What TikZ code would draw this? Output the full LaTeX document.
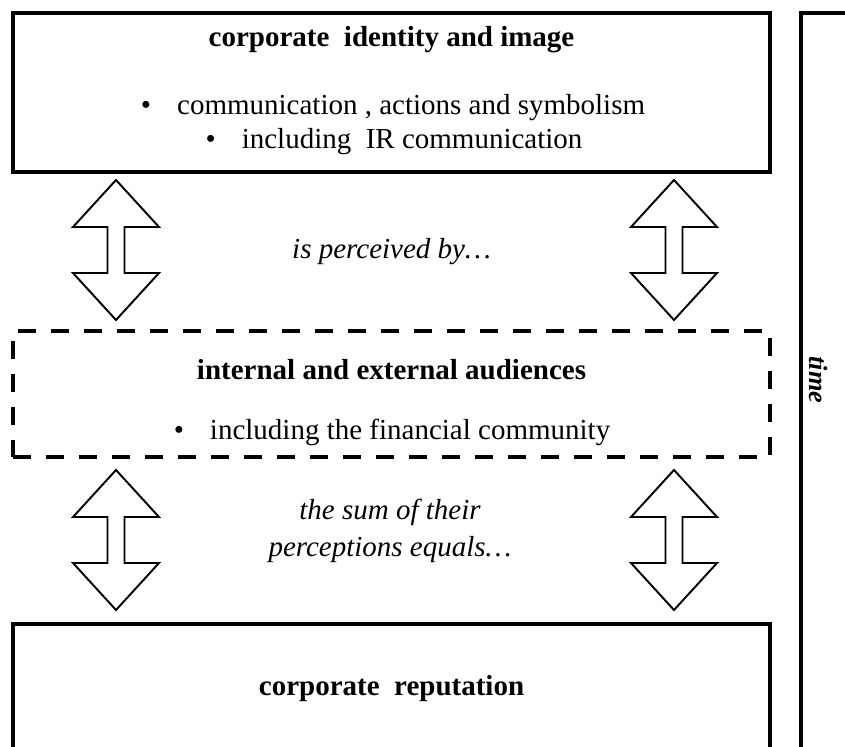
\documentclass[tikz,border=0pt]{standalone}
\usepackage{fontspec}
\setmainfont{Liberation Serif}
\usetikzlibrary{positioning}

\tikzset{
  framebox/.style={draw, line width=2.3pt, minimum width=15.14cm, inner sep=0pt},
  dashbox/.style={framebox, dash pattern=on 0.36cm off 0.3cm},
  maintext/.style={font=\fontsize{16.5}{21}\selectfont, inner sep=0pt},
  titletext/.style={font=\fontsize{16.5}{21}\selectfont\bfseries, inner sep=0pt},
  notetext/.style={font=\fontsize{16.5}{21}\selectfont\itshape, align=center, inner sep=0pt},
  timetext/.style={font=\fontsize{15}{18}\selectfont\bfseries\itshape, inner sep=0pt},
  blockarrow/.style={draw, line width=1.1pt, miter limit=10, fill=white},
}

\begin{document}
\begin{tikzpicture}
  \useasboundingbox (0,0) rectangle (16.9,14.92);
  % Boxes
  \node[framebox, minimum height=3.18cm] (identity) at (7.83,13.07) {};
  \node[dashbox, minimum height=2.52cm] (audiences) at (7.83,7.04) {};
  \node[framebox, minimum height=2.74cm] (reputation) at (7.83,1.07) {};
  \node[framebox, minimum width=1.5cm, minimum height=14.96cm] (timebar) at (16.77,7.18) {};
  % Box contents
  \node[titletext] (identitytitle) at (7.83,14.12) {corporate\ \ identity and image};
  \node[maintext] (identityitem1) at (7.86,12.76)
    {\textbullet\hspace{0.9em}communication , actions and symbolism};
  \node[maintext] (identityitem2) at (7.88,12.08)
    {\textbullet\hspace{0.9em}including\ \ IR communication};
  \node[titletext] (audiencestitle) at (7.83,7.52) {internal and external audiences};
  \node[maintext] (audiencesitem) at (7.84,6.28)
    {\textbullet\hspace{0.9em}including the financial community};
  \node[titletext] (reputationtitle) at (7.83,1.14) {corporate\ \ reputation};
  % Notes between the boxes
  \node[notetext] (perceived) at (7.83,9.88) {is perceived by\ldots};
  \node[notetext] (sumnote) at (7.8,4.3) {the sum of their\\perceptions equals\ldots};
  % Time bar
  \node[timetext, rotate=-90] (timelabel) at (16.36,7.32) {time};
  % Double block arrows
  \foreach \x/\y in {2.32/9.92, 13.48/9.92, 2.32/4.12, 13.48/4.12}{
    \draw[blockarrow] (\x,\y) ++(0,1.4) -- ++(0.86,-0.94) -- ++(-0.69,0)
      -- ++(0,-0.92) -- ++(0.69,0) -- ++(-0.86,-0.94) -- ++(-0.86,0.94)
      -- ++(0.69,0) -- ++(0,0.92) -- ++(-0.69,0) -- cycle;
  }
\end{tikzpicture}
\end{document}
